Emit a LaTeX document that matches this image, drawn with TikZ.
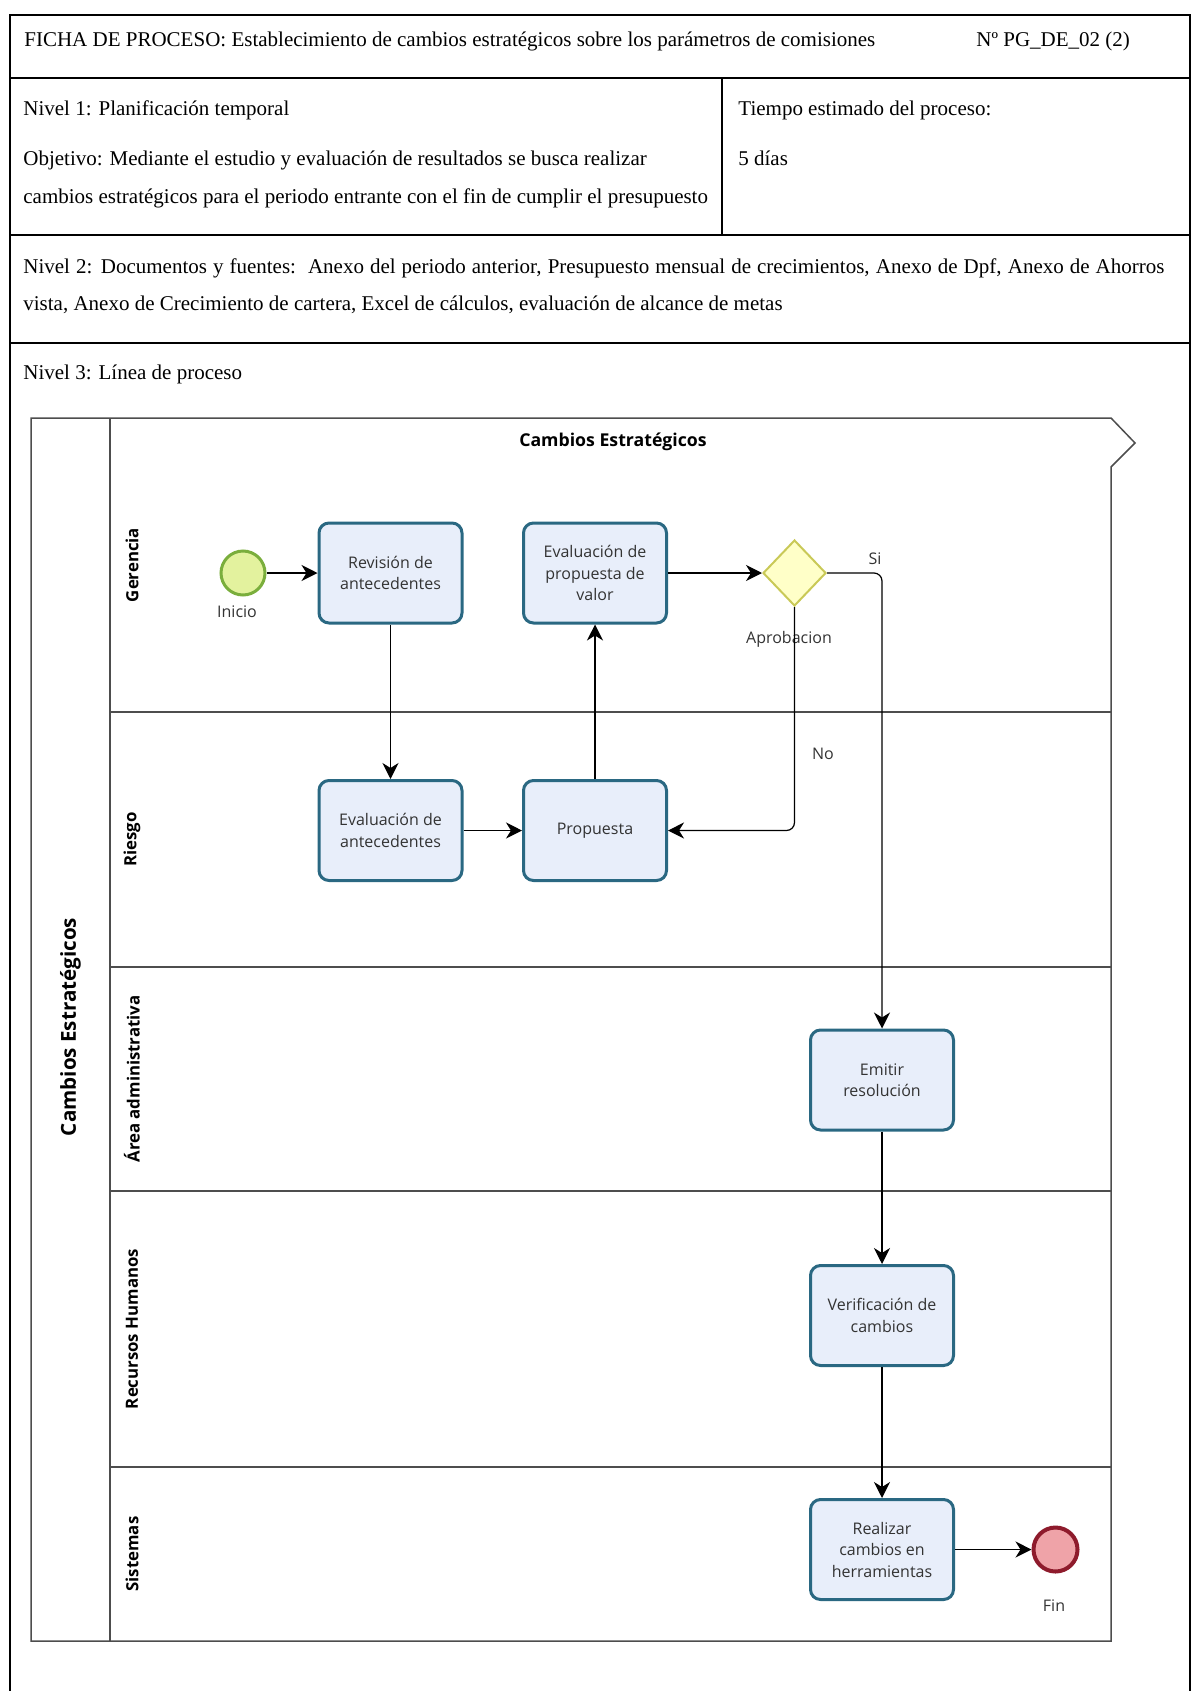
\documentclass[tikz,border=0pt]{standalone}
\usepackage{fontspec}
\setmainfont{Liberation Serif}
\newfontfamily\bpmn{Open Sans}
\usetikzlibrary{shapes.geometric, arrows.meta, positioning}
\definecolor{bordetarea}{HTML}{2A6882}
\definecolor{rellenotarea}{HTML}{E8EEFA}
\definecolor{verdeinicio}{HTML}{7AAE3C}
\definecolor{limainicio}{HTML}{E3F29E}
\definecolor{ocre}{HTML}{C9C957}
\definecolor{amarillo}{HTML}{FFFFC8}
\definecolor{rojofin}{HTML}{8E1B2C}
\definecolor{rosafin}{HTML}{EFA3A8}
\definecolor{gris}{HTML}{4D4D4D}
\definecolor{texto}{HTML}{333333}
\tikzset{
  tarea/.style={rectangle, rounded corners=5pt, draw=bordetarea, line width=1.5pt,
    fill=rellenotarea, minimum width=71.5pt, minimum height=50pt, inner sep=0pt,
    align=center, text=texto, font=\bpmn\fontsize{8}{10.75}\selectfont},
  inicio/.style={circle, draw=verdeinicio, line width=1.5pt, fill=limainicio,
    minimum size=22pt, inner sep=0pt},
  fin/.style={circle, draw=rojofin, line width=2pt, fill=rosafin,
    minimum size=22pt, inner sep=0pt},
  compuerta/.style={diamond, draw=ocre, line width=1pt, fill=amarillo,
    minimum width=31.5pt, minimum height=33pt, inner sep=0pt},
  etiqueta/.style={text=texto, inner sep=0pt, font=\bpmn\fontsize{8}{10}\selectfont},
  carril/.style={rotate=90, inner sep=0pt, font=\bpmn\bfseries\fontsize{8.4}{10}\selectfont},
  ficha/.style={anchor=base west, inner sep=0pt, font=\fontsize{10.5}{19}\selectfont},
  flecha/.style={-{Stealth[length=8pt, width=8pt, inset=2.5pt]}, line width=0.6pt, black},
  marco/.style={line width=1pt, black},
  piscina/.style={line width=0.75pt, gris}
}
\begin{document}
\begin{tikzpicture}[x=0.5pt, y=-0.5pt]
  \useasboundingbox (0,0) rectangle (1193,1691);

  % --- Marco de la ficha ---
  \draw[marco] (10,1691) -- (10,15) -- (1190,15) -- (1190,1691);
  \draw[marco] (10,78) -- (1190,78);
  \draw[marco] (10,235) -- (1190,235);
  \draw[marco] (10,343) -- (1190,343);
  \draw[marco] (722,78) -- (722,235);

  % --- Textos de la ficha ---
  \node[ficha] (titulo) at (24,46.5)
    {FICHA DE PROCESO: Establecimiento de cambios estratégicos sobre los parámetros de comisiones};
  \node[ficha] (codigo) at (976,46.5) {Nº PG\_DE\_02 (2)};
  \node[ficha] (nivel1) at (23,115.5) {Nivel 1: Planificación temporal};
  % el ancla base queda en la ultima linea
  \node[ficha, align=left] (objetivo) at (23,203.5)
    {Objetivo: Mediante el estudio y evaluación de resultados se busca realizar\\
     cambios estratégicos para el periodo entrante con el fin de cumplir el presupuesto};
  \node[ficha] (tiempo) at (738,115.5) {Tiempo estimado del proceso:};
  \node[ficha] (dias) at (738,165.5) {5 días};
  \node[ficha, text width=570.5pt, align=justify, font=\fontsize{10.5}{18.5}\selectfont] (nivel2) at (23,273.5)
    {Nivel 2: Documentos y fuentes:\ \ Anexo del periodo anterior, Presupuesto mensual de crecimientos, Anexo de Dpf, Anexo de Ahorros\linebreak
     vista, Anexo de Crecimiento de cartera, Excel de cálculos, evaluación de alcance de metas};
  \node[ficha] (nivel3) at (23,379.5) {Nivel 3: Línea de proceso};

  % --- Piscina y carriles ---
  \draw[piscina] (31,418) -- (1111,418) -- (1135,443) -- (1111,467) -- (1111,1641)
    -- (31,1641) -- cycle;
  \draw[piscina] (110,418) -- (110,1641);
  \foreach \y in {712,967,1191,1467}
    \draw[piscina] (110,\y) -- (1111,\y);

  \node[carril, font=\bpmn\bfseries\fontsize{10.3}{12}\selectfont] (pool) at (70.5,1027)
    {Cambios Estratégicos};
  \node[inner sep=0pt, font=\bpmn\bfseries\fontsize{8.85}{10}\selectfont] (fase) at (613,442)
    {Cambios Estratégicos};
  \node[carril] (gerencia) at (132,565) {Gerencia};
  \node[carril] (riesgo) at (132,839.5) {Riesgo};
  \node[carril] (administrativa) at (132,1079) {Área administrativa};
  \node[carril] (rrhh) at (132,1329) {Recursos Humanos};
  \node[carril] (sistemas) at (132,1554) {Sistemas};

  % --- Eventos y compuerta ---
  \node[inicio] (ini) at (243,573) {};
  \node[compuerta] (aprobacion) at (794.5,573) {};
  \node[fin] (final) at (1055.5,1549.5) {};

  % --- Tareas ---
  \node[tarea] (revision) at (390.5,573) {Revisión de\\antecedentes};
  \node[tarea] (evpropuesta) at (595,573) {Evaluación de\\propuesta de\\valor};
  \node[tarea] (evantecedentes) at (390.5,830.5) {Evaluación de\\antecedentes};
  \node[tarea] (propuesta) at (595,830.5) {Propuesta};
  \node[tarea] (emitir) at (882,1080) {Emitir\\resolución};
  \node[tarea] (verificacion) at (882,1315.5) {Verificación de\\cambios};
  \node[tarea] (realizar) at (882,1549.5) {Realizar\\cambios en\\herramientas};

  % --- Etiquetas ---
  \node[etiqueta] (txtinicio) at (237,612) {Inicio};
  \node[etiqueta] (txtaprob) at (789,639) {Aprobacion};
  \node[etiqueta] (txtsi) at (875,559) {Si};
  \node[etiqueta] (txtno) at (823,754) {No};
  \node[etiqueta] (txtfin) at (1054,1606) {Fin};

  % --- Flechas ---
  \draw[flecha] (ini) -- (revision);
  \draw[flecha] (revision) -- (evantecedentes);
  \draw[flecha] (evantecedentes) -- (propuesta);
  \draw[flecha] (propuesta) -- (evpropuesta);
  \draw[flecha] (evpropuesta) -- (aprobacion);
  % Si: pasa a resolucion; No: vuelve a la propuesta
  \draw[flecha, rounded corners=4pt] (aprobacion.east) -| (emitir.north);
  \draw[flecha, rounded corners=4pt] (aprobacion.south) |- (propuesta.east);
  \draw[flecha] (emitir) -- (verificacion);
  \draw[flecha] (verificacion) -- (realizar);
  \draw[flecha] (realizar) -- (final);

\end{tikzpicture}
\end{document}
